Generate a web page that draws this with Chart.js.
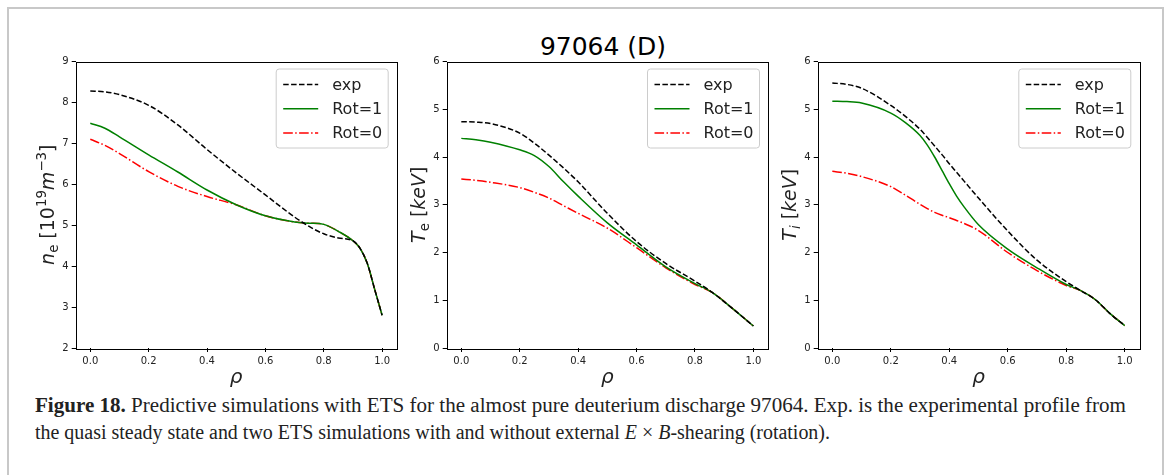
<!DOCTYPE html>
<html>
<head>
<meta charset="utf-8">
<script src="https://cdn.jsdelivr.net/npm/chart.js@4.4.1/dist/chart.umd.min.js"></script>
<style>
  body { margin: 0; background: #fff; width: 1167px; height: 475px; overflow: hidden; position: relative; font-family: "DejaVu Sans"; }
  #frame { position: absolute; left: 7px; top: 7px; width: 1157px; height: 600px; border: 2px solid #c8c8c8; box-sizing: border-box; }
  canvas { position: absolute; top: 50px; }
  #title { position: absolute; left: 403px; width: 400px; top: 34px; text-align: center; font-size: 25px; line-height: 25px; color: #000; }
  .cap { position: absolute; left: 35px; white-space: nowrap; font-family: "Liberation Serif"; font-size: 20px; line-height: 27px; color: #222; transform-origin: 0 0; display: inline-block; }
  #cap1 { top: 392px; }
  #cap2 { top: 419px; }
</style>
</head>
<body>
<div id="frame"></div>
<div id="title">97064 (D)</div>
<canvas id="c1" width="380" height="340" style="left:20px"></canvas>
<canvas id="c2" width="372" height="340" style="left:400px"></canvas>
<canvas id="c3" width="372" height="340" style="left:772px"></canvas>
<div class="cap" id="cap1"><b>Figure 18.</b> Predictive simulations with ETS for the almost pure deuterium discharge 97064. Exp. is the experimental profile from</div>
<div class="cap" id="cap2">the quasi steady state and two ETS simulations with and without external <i>E</i> × <i>B</i>-shearing (rotation).</div>
<script>
// series labels and tick values
const seriesLabels = ["exp", "Rot=1", "Rot=0"];
const xTicks = [0, 0.2, 0.4, 0.6, 0.8, 1.0];

// electron density n_e [10^19 m^-3]
const rhoNe = [0, 0.05, 0.1, 0.2, 0.3, 0.4, 0.5, 0.6, 0.7, 0.75, 0.8, 0.85, 0.9, 0.925, 0.95, 0.975, 1.0];
const neExp = [8.28, 8.26, 8.19, 7.93, 7.45, 6.85, 6.28, 5.74, 5.20, 4.97, 4.79, 4.69, 4.62, 4.43, 4.05, 3.42, 2.80];
const neRot1 = [7.49, 7.37, 7.16, 6.72, 6.30, 5.86, 5.50, 5.23, 5.08, 5.05, 5.02, 4.85, 4.62, 4.43, 4.05, 3.42, 2.80];
const neRot0 = [7.10, 6.95, 6.75, 6.31, 5.95, 5.70, 5.50, 5.23, 5.08, 5.05, 5.02, 4.85, 4.62, 4.43, 4.05, 3.42, 2.80];

// electron temperature T_e [keV]
const rhoTe = [0, 0.05, 0.1, 0.2, 0.25, 0.3, 0.35, 0.4, 0.5, 0.6, 0.7, 0.8, 0.86, 0.93, 1.0];
const teExp = [4.74, 4.73, 4.70, 4.50, 4.29, 4.04, 3.77, 3.48, 2.82, 2.23, 1.77, 1.40, 1.16, 0.82, 0.46];
const teRot1 = [4.39, 4.36, 4.31, 4.15, 4.03, 3.80, 3.48, 3.18, 2.62, 2.16, 1.70, 1.35, 1.16, 0.82, 0.46];
const teRot0 = [3.54, 3.51, 3.47, 3.36, 3.26, 3.14, 2.98, 2.82, 2.51, 2.10, 1.68, 1.33, 1.16, 0.82, 0.46];

// ion temperature T_i [keV]
const rhoTi = [0, 0.05, 0.1, 0.2, 0.25, 0.3, 0.325, 0.35, 0.375, 0.4, 0.425, 0.45, 0.5, 0.6, 0.7, 0.8, 0.85, 0.9, 0.95, 1.0];
const tiExp = [5.55, 5.52, 5.44, 5.08, 4.85, 4.58, 4.41, 4.23, 4.05, 3.86, 3.68, 3.50, 3.14, 2.45, 1.84, 1.39, 1.20, 1.01, 0.72, 0.47];
const tiRot1 = [5.17, 5.16, 5.13, 4.92, 4.72, 4.45, 4.25, 4.00, 3.72, 3.44, 3.18, 2.96, 2.58, 2.07, 1.68, 1.33, 1.20, 1.01, 0.72, 0.47];
const tiRot0 = [3.70, 3.66, 3.59, 3.38, 3.20, 3.01, 2.92, 2.84, 2.78, 2.73, 2.67, 2.61, 2.46, 2.00, 1.62, 1.31, 1.20, 1.01, 0.72, 0.47];

Chart.defaults.font.family = "DejaVu Sans";
Chart.defaults.color = "#222";

// draws text made of pieces: [text, italic?, script (-1 sub, 0, 1 sup)]
function richWidth(ctx, segs, size) {
  let w = 0;
  segs.forEach(s => {
    const sz = s[2] ? size * 0.7 : size;
    ctx.font = (s[1] ? "italic " : "") + sz + "px 'DejaVu Sans'";
    w += ctx.measureText(s[0]).width;
  });
  return w;
}
function drawRich(ctx, segs, size) {
  let x = -richWidth(ctx, segs, size) / 2;
  segs.forEach(s => {
    const sz = s[2] ? size * 0.7 : size;
    ctx.font = (s[1] ? "italic " : "") + sz + "px 'DejaVu Sans'";
    let dy = 0;
    if (s[2] === 1) dy = -size * 0.42;
    if (s[2] === -1) dy = size * 0.2;
    ctx.fillText(s[0], x, dy);
    x += ctx.measureText(s[0]).width;
  });
}

const decorPlugin = {
  id: "decor",
  afterDraw(chart, args, opts) {
    const ctx = chart.ctx;
    const a = chart.chartArea;
    ctx.save();
    // frame around plot
    ctx.strokeStyle = "#000";
    ctx.lineWidth = 1;
    ctx.strokeRect(Math.round(a.left) + 0.5, Math.round(a.top) + 0.5, Math.round(a.right - a.left), Math.round(a.bottom - a.top));

    // legend box
    const bw = 112, bh = 79;
    const bx = a.right - 8.5 - bw, by = a.top + 7.5;
    ctx.beginPath();
    ctx.roundRect(bx, by, bw, bh, 3);
    ctx.fillStyle = "rgba(255,255,255,0.8)";
    ctx.fill();
    ctx.strokeStyle = "#cccccc";
    ctx.stroke();
    chart.data.datasets.forEach((ds, i) => {
      const y = by + 15.5 + i * 24.2;
      ctx.beginPath();
      ctx.setLineDash(ds.borderDash || []);
      ctx.strokeStyle = ds.borderColor;
      ctx.lineWidth = ds.borderWidth;
      ctx.moveTo(bx + 7, y);
      ctx.lineTo(bx + 42, y);
      ctx.stroke();
      ctx.setLineDash([]);
      ctx.fillStyle = "#222";
      ctx.font = "16px 'DejaVu Sans'";
      ctx.textBaseline = "middle";
      ctx.textAlign = "left";
      ctx.fillText(ds.label, bx + 56, y + 1);
    });

    // axis titles
    ctx.fillStyle = "#222";
    ctx.textBaseline = "alphabetic";
    ctx.textAlign = "left";
    ctx.save();
    ctx.translate((a.left + a.right) / 2, a.bottom + 35);
    drawRich(ctx, [["ρ", true, 0]], 20);
    ctx.restore();
    ctx.save();
    ctx.translate(a.left - 21.5, (a.top + a.bottom) / 2);
    ctx.rotate(-Math.PI / 2);
    drawRich(ctx, opts.ylabel, 19);
    ctx.restore();
    ctx.restore();
  }
};

function makePanel(id, rho, exp, rot1, rot0, yMin, yMax, yWidth, padRight, ylabel) {
  const pts = vals => rho.map((r, i) => ({ x: r, y: vals[i] }));
  new Chart(document.getElementById(id), {
    type: "line",
    data: {
      datasets: [
        { label: seriesLabels[0], data: pts(exp), borderColor: "#000000", borderWidth: 1.5, borderDash: [5.5, 2.4] },
        { label: seriesLabels[1], data: pts(rot1), borderColor: "#008000", borderWidth: 1.5 },
        { label: seriesLabels[2], data: pts(rot0), borderColor: "#ff0000", borderWidth: 1.5, borderDash: [9.6, 2.4, 1.5, 2.4] }
      ]
    },
    options: {
      responsive: false,
      animation: false,
      layout: { padding: { top: 11.5, right: padRight, left: 0, bottom: 0 } },
      elements: { point: { radius: 0 }, line: { cubicInterpolationMode: "monotone", fill: false } },
      plugins: { legend: { display: false }, tooltip: { enabled: false }, decor: { ylabel: ylabel } },
      scales: {
        x: {
          type: "linear", min: -0.05, max: 1.05,
          afterBuildTicks: s => { s.ticks = xTicks.map(v => ({ value: v })); },
          afterFit: s => { s.height = 42; },
          ticks: { callback: v => v.toFixed(1), font: { size: 10 }, padding: 3, maxRotation: 0 },
          grid: { drawOnChartArea: false, tickLength: 4, color: "#000" },
          border: { display: false }
        },
        y: {
          min: yMin, max: yMax,
          afterFit: s => { s.width = yWidth; },
          ticks: { stepSize: 1, callback: v => String(v), font: { size: 10 }, padding: 3 },
          grid: { drawOnChartArea: false, tickLength: 4, color: "#000" },
          border: { display: false }
        }
      }
    },
    plugins: [decorPlugin]
  });
}

makePanel("c1", rhoNe, neExp, neRot1, neRot0, 2, 9, 55.7, 3.3,
  [["n", true, 0], ["e", false, -1], [" [10", false, 0], ["19", false, 1], ["m", true, 0], ["−3", false, 1], ["]", false, 0]]);
makePanel("c2", rhoTe, teExp, teRot1, teRot0, 0, 6, 46.7, 4,
  [["T", true, 0], ["e", false, -1], [" [", false, 0], ["keV", true, 0], ["]", false, 0]]);
makePanel("c3", rhoTi, tiExp, tiRot1, tiRot0, 0, 6, 45.7, 4.7,
  [["T", true, 0], ["i", true, -1], [" [", false, 0], ["keV", true, 0], ["]", false, 0]]);

// squeeze each caption line to the width it has in the original
const cap1 = document.getElementById("cap1");
const cap2 = document.getElementById("cap2");
cap1.style.transform = "scaleX(" + (1091 / cap1.getBoundingClientRect().width) + ")";
cap2.style.transform = "scaleX(" + (795 / cap2.getBoundingClientRect().width) + ")";
</script>
</body>
</html>
